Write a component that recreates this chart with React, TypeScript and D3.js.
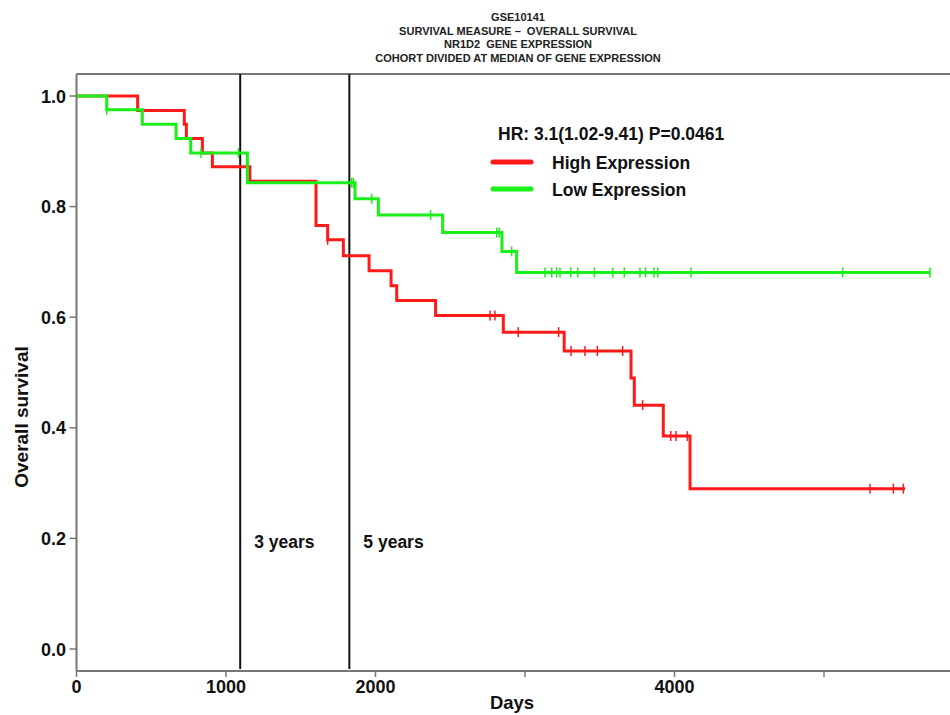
import React from "react";
import * as d3 from "d3";

const titleLines = [
  "GSE10141",
  "SURVIVAL MEASURE \u2013  OVERALL SURVIVAL",
  "NR1D2  GENE EXPRESSION",
  "COHORT DIVIDED AT MEDIAN OF GENE EXPRESSION",
];

// High expression (red) KM steps
const highTimes = [0, 409, 721, 735, 842, 909, 1160, 1602, 1680, 1785, 1957, 2104, 2142, 2402, 2855, 3262, 3709, 3731, 3925, 4104];
const highSurv = [1.0, 0.974, 0.949, 0.923, 0.897, 0.872, 0.846, 0.766, 0.74, 0.711, 0.684, 0.657, 0.63, 0.603, 0.573, 0.539, 0.49, 0.441, 0.385, 0.29];
const highEnd = 5542;
const highCensor = [1680, 2766, 2799, 2955, 3225, 3308, 3401, 3484, 3653, 3787, 3975, 4010, 4086, 5308, 5464, 5531];

// Low expression (green) KM steps
const lowTimes = [0, 202, 440, 666, 764, 1143, 1863, 2019, 2449, 2846, 2944];
const lowSurv = [1.0, 0.975, 0.949, 0.923, 0.897, 0.843, 0.814, 0.785, 0.753, 0.719, 0.681];
const lowEnd = 5709;
const lowCensor = [202, 833, 1083, 1841, 1852, 1975, 2369, 2811, 2828, 2911, 3134, 3179, 3212, 3234, 3306, 3353, 3464, 3587, 3664, 3769, 3807, 3863, 3888, 4110, 5125, 5709];

const xTicks = [0, 1000, 2000, 3000, 4000, 5000];
const xTickLabels = ["0", "1000", "2000", "", "4000", ""];
const yTicks = [0, 0.2, 0.4, 0.6, 0.8, 1.0];
const refLines = [
  { days: 1095, label: "3 years" },
  { days: 1825, label: "5 years" },
];

const series = [
  { name: "High Expression", color: "#ff1a1a", times: highTimes, surv: highSurv, end: highEnd, censor: highCensor },
  { name: "Low Expression", color: "#1aef1a", times: lowTimes, surv: lowSurv, end: lowEnd, censor: lowCensor },
];

const W = 950;
const H = 715;
const FONT = "'Liberation Sans', Arial, sans-serif";

export default function App() {
  const x = d3.scaleLinear().domain([0, 5800]).range([76.5, 76.5 + 5.8 * 149.5]);
  const y = d3.scaleLinear().domain([0, 1]).range([649, 96]);
  const top = y(1.04);
  const bottom = 671;
  const left = x(0);

  const stepLine = d3
    .line<[number, number]>()
    .x((d) => x(d[0]))
    .y((d) => y(d[1]))
    .curve(d3.curveStepAfter);

  const survAt = (times: number[], surv: number[], t: number) => {
    const i = d3.bisectRight(times, t) - 1;
    return surv[Math.max(0, i)];
  };

  return (
    <svg width={W} height={H} style={{ position: "absolute", left: 0, top: 0, background: "#fff" }} fontFamily={FONT}>
      {/* title */}
      {titleLines.map((t, i) => (
        <text
          key={i}
          x={518}
          y={21 + i * 13.5}
          textAnchor="middle"
          fontSize={11}
          fontWeight="bold"
          fill="#222"
          style={{ whiteSpace: "pre" }}
        >
          {t}
        </text>
      ))}

      {/* frame */}
      <line x1={left} x2={W} y1={top} y2={top} stroke="#777" strokeWidth={2} />
      <line x1={left} x2={left} y1={top} y2={bottom} stroke="#777" strokeWidth={2} />
      <line x1={left} x2={W} y1={bottom} y2={bottom} stroke="#777" strokeWidth={2} />

      {/* y ticks */}
      {yTicks.map((v) => (
        <g key={v}>
          <line x1={left - 7} x2={left} y1={y(v)} y2={y(v)} stroke="#777" strokeWidth={1.5} />
          <text x={66} y={y(v) + 6.5} textAnchor="end" fontSize={18} fontWeight="bold" fill="#111">
            {d3.format(".1f")(v)}
          </text>
        </g>
      ))}

      {/* x ticks */}
      {xTicks.map((v, i) => (
        <g key={v}>
          <line x1={x(v)} x2={x(v)} y1={bottom} y2={bottom + 6} stroke="#777" strokeWidth={1.5} />
          <text x={x(v)} y={bottom + 22} textAnchor="middle" fontSize={18} fontWeight="bold" fill="#111">
            {xTickLabels[i]}
          </text>
        </g>
      ))}

      {/* axis titles */}
      <text x={512} y={709} textAnchor="middle" fontSize={18.5} fontWeight="bold" fill="#111">
        Days
      </text>
      <text
        transform={`translate(28, ${417}) rotate(-90)`}
        textAnchor="middle"
        fontSize={19}
        fontWeight="bold"
        fill="#111"
      >
        Overall survival
      </text>

      {/* reference lines */}
      {refLines.map((r) => (
        <g key={r.label}>
          <line x1={x(r.days)} x2={x(r.days)} y1={top} y2={bottom - 2} stroke="#111" strokeWidth={2} />
          <text x={x(r.days) + 14} y={548} fontSize={17.5} fontWeight="bold" fill="#111">
            {r.label}
          </text>
        </g>
      ))}

      {/* curves */}
      {series.map((s) => {
        const pts: [number, number][] = s.times.map((t, i) => [t, s.surv[i]] as [number, number]);
        pts.push([s.end, s.surv[s.surv.length - 1]]);
        return (
          <g key={s.name}>
            <path d={stepLine(pts) || ""} fill="none" stroke={s.color} strokeWidth={3} />
            {s.censor.map((c, j) => {
              const v = survAt(s.times, s.surv, c);
              return (
                <line key={j} x1={x(c)} x2={x(c)} y1={y(v) - 5} y2={y(v) + 5} stroke={s.color} strokeWidth={1.5} />
              );
            })}
          </g>
        );
      })}

      {/* legend */}
      <text x={498} y={140} fontSize={17.5} fontWeight="bold" fill="#111">
        HR: 3.1(1.02-9.41) P=0.0461
      </text>
      {series.map((s, i) => (
        <g key={s.name}>
          <line x1={493} x2={531} y1={162 + i * 27} y2={162 + i * 27} stroke={s.color} strokeWidth={5} strokeLinecap="round" />
          <text x={552} y={169 + i * 27} fontSize={17.5} fontWeight="bold" fill="#111">
            {s.name}
          </text>
        </g>
      ))}
    </svg>
  );
}
